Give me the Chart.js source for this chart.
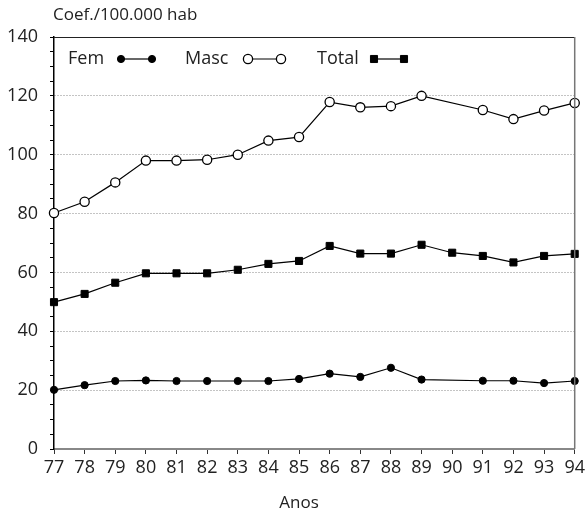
<!DOCTYPE html>
<html>
<head>
<meta charset="utf-8">
<script src="https://cdn.jsdelivr.net/npm/chart.js@4/dist/chart.umd.min.js"></script>
<style>
  html, body { margin: 0; padding: 0; background: #fff; }
  #wrap { width: 588px; height: 513px; position: relative; }
</style>
</head>
<body>
<div id="wrap"><canvas id="chart" width="588" height="513"></canvas></div>
<script>
const years = ['77','78','79','80','81','82','83','84','85','86','87','88','89','90','91','92','93','94'];
const fem   = [20.1, 21.7, 23.1, 23.3, 23.1, 23.1, 23.1, 23.1, 23.8, 25.6, 24.5, 27.6, 23.6, null, 23.2, 23.2, 22.4, 23.1];
const masc  = [80.2, 84.0, 90.6, 98.0, 98.0, 98.3, 100.0, 104.8, 106.0, 117.9, 116.1, 116.5, 120.0, null, 115.2, 112.1, 115.0, 117.6];
const total = [49.9, 52.7, 56.5, 59.7, 59.7, 59.7, 60.9, 62.9, 63.9, 69.0, 66.4, 66.4, 69.4, 66.7, 65.6, 63.4, 65.6, 66.3];
const yTicks = [0, 20, 40, 60, 80, 100, 120, 140];

const FONT = "'Open Sans', sans-serif";

// frame, title, axis name and the inline legend
const decor = {
    id: 'decor',
    afterDraw(chart) {
        const ctx = chart.ctx;
        const a = chart.chartArea;
        ctx.save();
        ctx.lineWidth = 1.2;
        ctx.strokeStyle = '#222';
        ctx.beginPath();
        ctx.moveTo(a.left, a.top + 0.5);
        ctx.lineTo(a.right, a.top + 0.5);
        ctx.stroke();
        ctx.strokeStyle = '#777';
        ctx.lineWidth = 1.5;
        ctx.beginPath();
        ctx.moveTo(a.right, a.top);
        ctx.lineTo(a.right, a.bottom);
        ctx.stroke();

        ctx.fillStyle = '#222';
        ctx.font = '17px ' + FONT;
        ctx.textBaseline = 'middle';
        ctx.textAlign = 'left';
        ctx.fillText('Coef./100.000 hab', 53, 15);
        ctx.textAlign = 'center';
        ctx.fillText('Anos', 299, 503);

        const items = [
            { text: 'Fem', tx: 68, m1: 121, m2: 152, ds: 0 },
            { text: 'Masc', tx: 185, m1: 248, m2: 281, ds: 1 },
            { text: 'Total', tx: 317, m1: 374, m2: 404, ds: 2 }
        ];
        const ly = 59;
        items.forEach(it => {
            const d = chart.data.datasets[it.ds];
            ctx.font = '18px ' + FONT;
            ctx.textAlign = 'left';
            ctx.fillStyle = '#222';
            ctx.fillText(it.text, it.tx, ly);
            ctx.strokeStyle = '#000';
            ctx.lineWidth = 1.2;
            ctx.beginPath();
            ctx.moveTo(it.m1, ly);
            ctx.lineTo(it.m2, ly);
            ctx.stroke();
            [it.m1, it.m2].forEach(x => {
                ctx.fillStyle = d.pointBackgroundColor;
                ctx.strokeStyle = d.pointBorderColor;
                ctx.lineWidth = d.pointBorderWidth;
                Chart.helpers.drawPoint(ctx, { pointStyle: d.pointStyle, radius: d.pointRadius, borderWidth: d.pointBorderWidth }, x, ly);
            });
        });
        ctx.restore();
    }
};

new Chart(document.getElementById('chart'), {
    type: 'line',
    data: {
        labels: years,
        datasets: [
            {
                label: 'Fem', data: fem, spanGaps: true,
                borderColor: '#000', borderWidth: 1.2,
                pointStyle: 'circle', pointRadius: 3.6,
                pointBackgroundColor: '#000', pointBorderColor: '#000', pointBorderWidth: 1,
                clip: false
            },
            {
                label: 'Masc', data: masc, spanGaps: true,
                borderColor: '#000', borderWidth: 1.2,
                pointStyle: 'circle', pointRadius: 4.6,
                pointBackgroundColor: '#fff', pointBorderColor: '#000', pointBorderWidth: 1.3,
                clip: false
            },
            {
                label: 'Total', data: total, spanGaps: true,
                borderColor: '#000', borderWidth: 1.2,
                pointStyle: 'rect', pointRadius: 5,
                pointBackgroundColor: '#000', pointBorderColor: '#000', pointBorderWidth: 1,
                clip: false
            }
        ]
    },
    options: {
        responsive: false,
        animation: false,
        layout: { padding: { top: 37, right: 9, left: 0, bottom: 0 } },
        plugins: { legend: { display: false }, tooltip: { enabled: false } },
        scales: {
            x: {
                offset: false,
                afterFit: s => { s.height = 64; },
                grid: { drawOnChartArea: false, tickLength: 5, tickColor: '#333' },
                border: { color: '#888', width: 2 },
                ticks: { color: '#222', font: { family: FONT, size: 18 }, padding: 3, maxRotation: 0, autoSkip: false }
            },
            y: {
                min: 0, max: 140,
                afterFit: s => { s.width = 54; },
                grid: {
                    tickLength: 4,
                    tickColor: '#000',
                    borderDash: [1, 2],
                    color: c => (c.tick && c.tick.value % 20 === 0 && c.tick.value > 0 && c.tick.value < 140) ? '#888' : 'rgba(0,0,0,0)'
                },
                border: { color: '#000', width: 1.5, dash: [1, 2] },
                ticks: {
                    stepSize: 5,
                    color: '#222',
                    font: { family: FONT, size: 18 },
                    padding: 12,
                    autoSkip: false,
                    callback: v => yTicks.includes(v) ? String(v) : ''
                }
            }
        }
    },
    plugins: [decor]
});
</script>
</body>
</html>
